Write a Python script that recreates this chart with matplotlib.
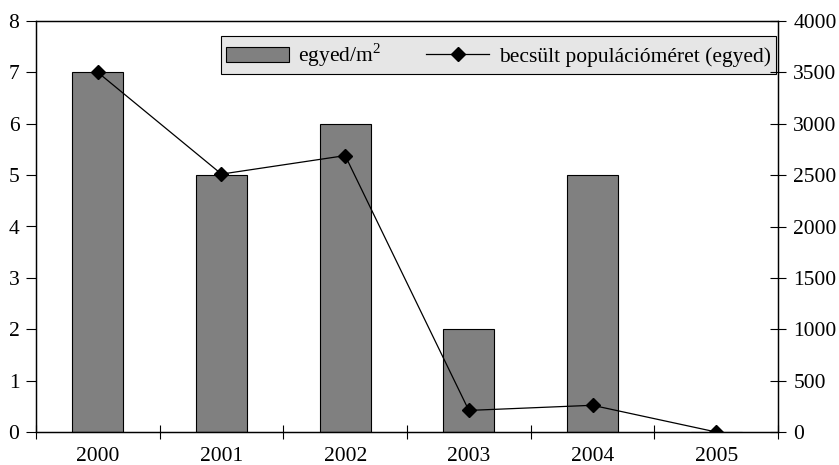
import matplotlib
matplotlib.use('Agg')
import matplotlib.pyplot as plt

# adatok
years = ['2000', '2001', '2002', '2003', '2004', '2005']
density = [7, 5, 6, 2, 5, 0]
population = [3500, 2510, 2690, 210, 260, 0]

plt.rcParams['font.family'] = ['Liberation Serif', 'DejaVu Serif']
plt.rcParams['mathtext.fontset'] = 'custom'
plt.rcParams['mathtext.rm'] = 'Liberation Serif'

fs = 15.5

fig = plt.figure(figsize=(8.39, 4.65), dpi=100)
ax = fig.add_axes([36/839, 1-432/465, (778-36)/839, (432-21)/465])
ax2 = ax.twinx()

x = list(range(len(years)))
bars = ax.bar(x, density, width=0.41, color='#808080', edgecolor='black', linewidth=0.8, zorder=2)
line, = ax2.plot(x, population, color='black', linewidth=0.9, marker='D', markersize=7,
                 markerfacecolor='black', zorder=3)

ax.set_xlim(-0.5, len(years) - 0.5)
ax.set_ylim(0, 8)
ax2.set_ylim(0, 4000)
ax.set_yticks(range(0, 9))
ax2.set_yticks(range(0, 4001, 500))

# x tengely: jelölők a kategóriák határán, feliratok középen
ax.set_xticks([i - 0.5 for i in range(len(years) + 1)])
ax.set_xticklabels([])
ax.set_xticks(x, minor=True)
ax.set_xticklabels(years, minor=True)
ax.tick_params(axis='x', which='major', direction='inout', length=10, width=0.8)
ax.tick_params(axis='x', which='minor', length=0, pad=11, labelsize=fs)
ax.tick_params(axis='y', direction='out', length=7, width=0.8, labelsize=fs, pad=5)
ax2.tick_params(axis='y', direction='inout', length=12, width=0.8, labelsize=fs, pad=5)

for a in (ax, ax2):
    for s in a.spines.values():
        s.set_linewidth(0.9)

leg = ax.legend([bars, line], [r'egyed/m$^{\mathrm{2}}$', 'becsült populációméret (egyed)'],
                ncol=2, loc='upper right', bbox_to_anchor=(0.9973, 0.9635),
                fontsize=fs, fancybox=False, framealpha=1, facecolor='#e6e6e6',
                edgecolor='black', handlelength=2.9, columnspacing=2.1,
                borderpad=0.25, handletextpad=0.45, borderaxespad=0)
leg.get_frame().set_linewidth(0.8)
leg.set_zorder(5)

fig.savefig('out.png', dpi=100)
